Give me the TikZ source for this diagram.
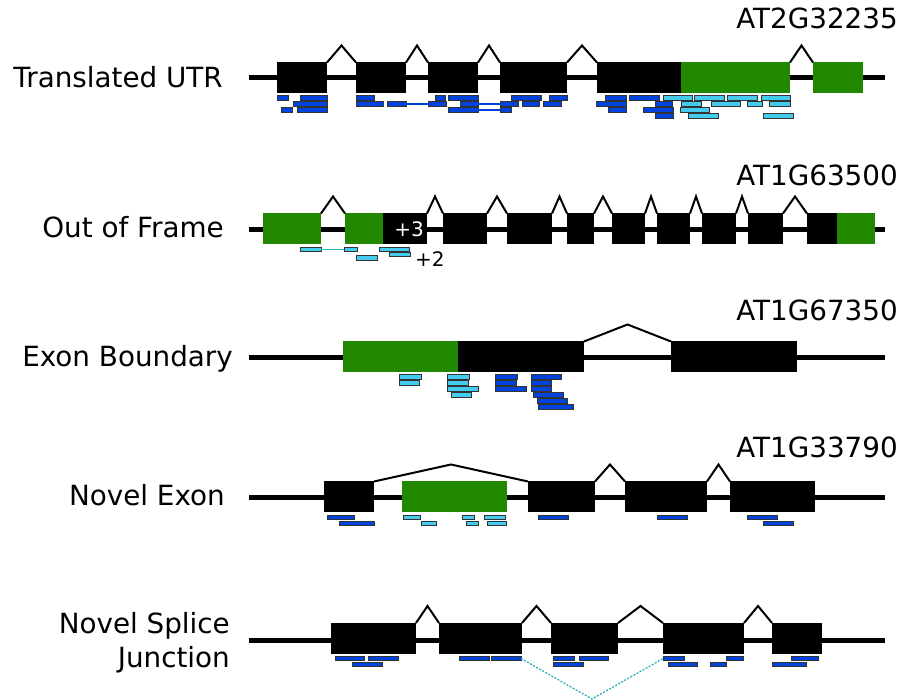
\documentclass[tikz,border=0pt]{standalone}
\usepackage{fontspec}
\setmainfont{DejaVu Sans}
\usetikzlibrary{calc}
\definecolor{utrgreen}{HTML}{228800}
\definecolor{readblue}{HTML}{0044DD}
\definecolor{readcyan}{HTML}{44CCEE}
\definecolor{readbd}{HTML}{333333}
\definecolor{junc}{HTML}{22AABB}
\tikzset{
  exon/.style={rectangle, fill=black, minimum height=31pt, inner sep=0pt,
               outer sep=0pt},
  utr/.style={exon, fill=utrgreen},
  backbone/.style={draw=black, line width=5pt},
  intron/.style={draw=black, line width=2pt,
                 to path={-- ($(\tikztostart)!.5!(\tikztotarget)+(0,-17)$)
                          -- (\tikztotarget)}},
  rd/.style={rectangle, draw=readbd, line width=0.9pt, fill=readblue,
             minimum height=4.5pt, inner sep=0pt, outer sep=0pt},
  rdc/.style={rd, fill=readcyan},
  link/.style={draw=readblue, line width=1.2pt},
  linkc/.style={draw=junc!70!readcyan, line width=1.2pt},
  junction/.style={draw=junc, line width=1.2pt, dash pattern=on 2pt off 1.5pt},
  rowname/.style={font=\fontsize{27.8}{34.3}\selectfont, text=black,
                  inner sep=0pt},
  genename/.style={font=\fontsize{27.8}{32}\selectfont, text=black,
                   inner sep=0pt, anchor=base east},
  framemark/.style={font=\fontsize{20}{24}\selectfont, inner sep=0pt},
}
% style, name, left, right, row
\newcommand{\exonbox}[5][exon]{%
  \node[#1, minimum width={#4-#3}] (#2) at ({(#3+#4)/2},#5) {};}
% style, prefix, row, list of left/right
\newcommand{\readrow}[4]{%
  \foreach \a/\b in {#4}
    \node[#1, minimum width={\b-\a}] (#2\a) at ({(\a+\b)/2},#3) {};}

\begin{document}
\begin{tikzpicture}[x=1pt, y=-1pt]
  \useasboundingbox (0,0) rectangle (903,700);

  % Translated UTR
  \node[rowname, anchor=base east] (lab1) at (223,88) {Translated UTR};
  \node[genename] (gene1) at (898,29) {AT2G32235};
  \draw[backbone] (249,78) -- (885,78);
  \exonbox{a1}{277}{327}{78}
  \exonbox{a2}{356}{406}{78}
  \exonbox{a3}{428}{478}{78}
  \exonbox{a4}{500}{567}{78}
  \exonbox{a5}{597}{681}{78}
  \exonbox[utr]{a5u}{681}{790}{78}
  \exonbox[utr]{a6}{813}{863}{78}
  \draw[intron] (a1.north east) to (a2.north west)
                (a2.north east) to (a3.north west)
                (a3.north east) to (a4.north west)
                (a4.north east) to (a5.north west)
                (a5u.north east) to (a6.north west);
  \readrow{rd}{r1a}{98}{277/288, 300/327, 356/374, 435/445, 448/478, 511/541,
                        549/567, 605/626, 629/659}
  \readrow{rdc}{r1a}{98}{663/692, 694/724, 727/757, 761/790}
  \readrow{rd}{r1b}{104}{293/327, 356/383, 387/406, 428/446, 460/478, 500/518,
                         522/539, 543/561, 596/626, 655/672}
  \readrow{rdc}{r1b}{104}{681/701, 711/740, 747/762, 769/790}
  \readrow{rd}{r1c}{110}{281/292, 297/327, 448/478, 500/511, 608/626, 643/673}
  \readrow{rdc}{r1c}{110}{680/709}
  \readrow{rd}{r1d}{116}{655/673}
  \readrow{rdc}{r1d}{116}{688/718, 763/793}
  \draw[link] (r1b387.east) -- (r1b428.west);
  \draw[link] (r1b460.east) -- (r1b500.west);
  \draw[link] (r1c448.east) -- (r1c500.west);

  % Out of Frame
  \node[rowname, anchor=base east] (lab2) at (224,238) {Out of Frame};
  \node[genename] (gene2) at (898,186) {AT1G63500};
  \draw[backbone] (249,230) -- (885,230);
  \exonbox[utr]{b1}{263}{321}{229}
  \exonbox[utr]{b2u}{345}{383}{229}
  \exonbox{b2}{383}{427}{229}
  \exonbox{b3}{443}{487}{229}
  \exonbox{b4}{507}{552}{229}
  \exonbox{b5}{567}{594}{229}
  \exonbox{b6}{612}{645}{229}
  \exonbox{b7}{657}{690}{229}
  \exonbox{b8}{702}{736}{229}
  \exonbox{b9}{748}{783}{229}
  \exonbox{b10}{807}{837}{229}
  \exonbox[utr]{b10u}{837}{875}{229}
  \draw[intron] (b1.north east) to (b2u.north west)
                (b2.north east) to (b3.north west)
                (b3.north east) to (b4.north west)
                (b4.north east) to (b5.north west)
                (b5.north east) to (b6.north west)
                (b6.north east) to (b7.north west)
                (b7.north east) to (b8.north west)
                (b8.north east) to (b9.north west)
                (b9.north east) to (b10.north west);
  \node[framemark, text=white, anchor=base] (plus3) at (409,237) {+3};
  \readrow{rdc}{r2a}{249.5}{300/321, 344/357, 379/409}
  \readrow{rdc}{r2b}{254.7}{389/410}
  \readrow{rdc}{r2c}{258}{356/377}
  \draw[linkc] (r2a300.east) -- (r2a344.west);
  \node[framemark, anchor=base west] (plus2) at (415,267) {+2};

  % Exon Boundary
  \node[rowname, anchor=base east] (lab3) at (233,367) {Exon Boundary};
  \node[genename] (gene3) at (898,321) {AT1G67350};
  \draw[backbone] (249,357.5) -- (885,357.5);
  \exonbox[utr]{c1}{343}{458}{357}
  \exonbox{c2}{458}{584}{357}
  \exonbox{c3}{671}{797}{357}
  \draw[intron] (c2.north east) to (c3.north west);
  \readrow{rdc}{r3a}{377}{399/421, 447/469}
  \readrow{rd}{r3a}{377}{495/517, 531/561}
  \readrow{rdc}{r3b}{383}{399/419, 447/468}
  \readrow{rd}{r3b}{383}{495/516, 531/551}
  \readrow{rdc}{r3c}{389}{447/478}
  \readrow{rd}{r3c}{389}{495/526, 531/551}
  \readrow{rdc}{r3d}{395}{451/471}
  \readrow{rd}{r3d}{395}{533/563}
  \readrow{rd}{r3e}{401}{537/567}
  \readrow{rd}{r3f}{407}{538/573}

  % Novel Exon
  \node[rowname, anchor=base east] (lab4) at (225,506) {Novel Exon};
  \node[genename] (gene4) at (898,458) {AT1G33790};
  \draw[backbone] (249,498) -- (885,498);
  \exonbox{d1}{324}{374}{497}
  \exonbox[utr]{d2}{402}{507}{497}
  \exonbox{d3}{528}{595}{497}
  \exonbox{d4}{625}{707}{497}
  \exonbox{d5}{730}{815}{497}
  \draw[intron] (d1.north east) to (d3.north west)
                (d3.north east) to (d4.north west)
                (d4.north east) to (d5.north west);
  \readrow{rd}{r4a}{517.5}{327/354, 538/568, 657/687, 747/777}
  \readrow{rdc}{r4a}{517.5}{403/420, 462/474, 484/505}
  \readrow{rd}{r4b}{523.5}{339/374, 763/793}
  \readrow{rdc}{r4b}{523.5}{421/436, 466/478, 487/506}

  % Novel Splice Junction
  \node[rowname, align=right, anchor=east] (lab5) at (230,643)
    {Novel Splice\\Junction};
  \draw[backbone] (249,640) -- (885,640);
  \exonbox{e1}{331}{416}{638.5}
  \exonbox{e2}{439}{522}{638.5}
  \exonbox{e3}{551}{618}{638.5}
  \exonbox{e4}{663}{744}{638.5}
  \exonbox{e5}{772}{822}{638.5}
  \draw[intron] (e1.north east) to (e2.north west)
                (e2.north east) to (e3.north west)
                (e3.north east) to (e4.north west)
                (e4.north east) to (e5.north west);
  \readrow{rd}{r5a}{658.5}{335/364, 368/398, 459/489, 491/521, 553/574,
                           579/608, 663/684, 726/743, 791/818}
  \readrow{rd}{r5b}{664.5}{352/382, 553/583, 668/697, 710/726, 772/806}
  \coordinate (jv) at (592,699);
  \draw[junction] (r5a491.east) -- (jv) -- (r5a663.west);
\end{tikzpicture}
\end{document}
